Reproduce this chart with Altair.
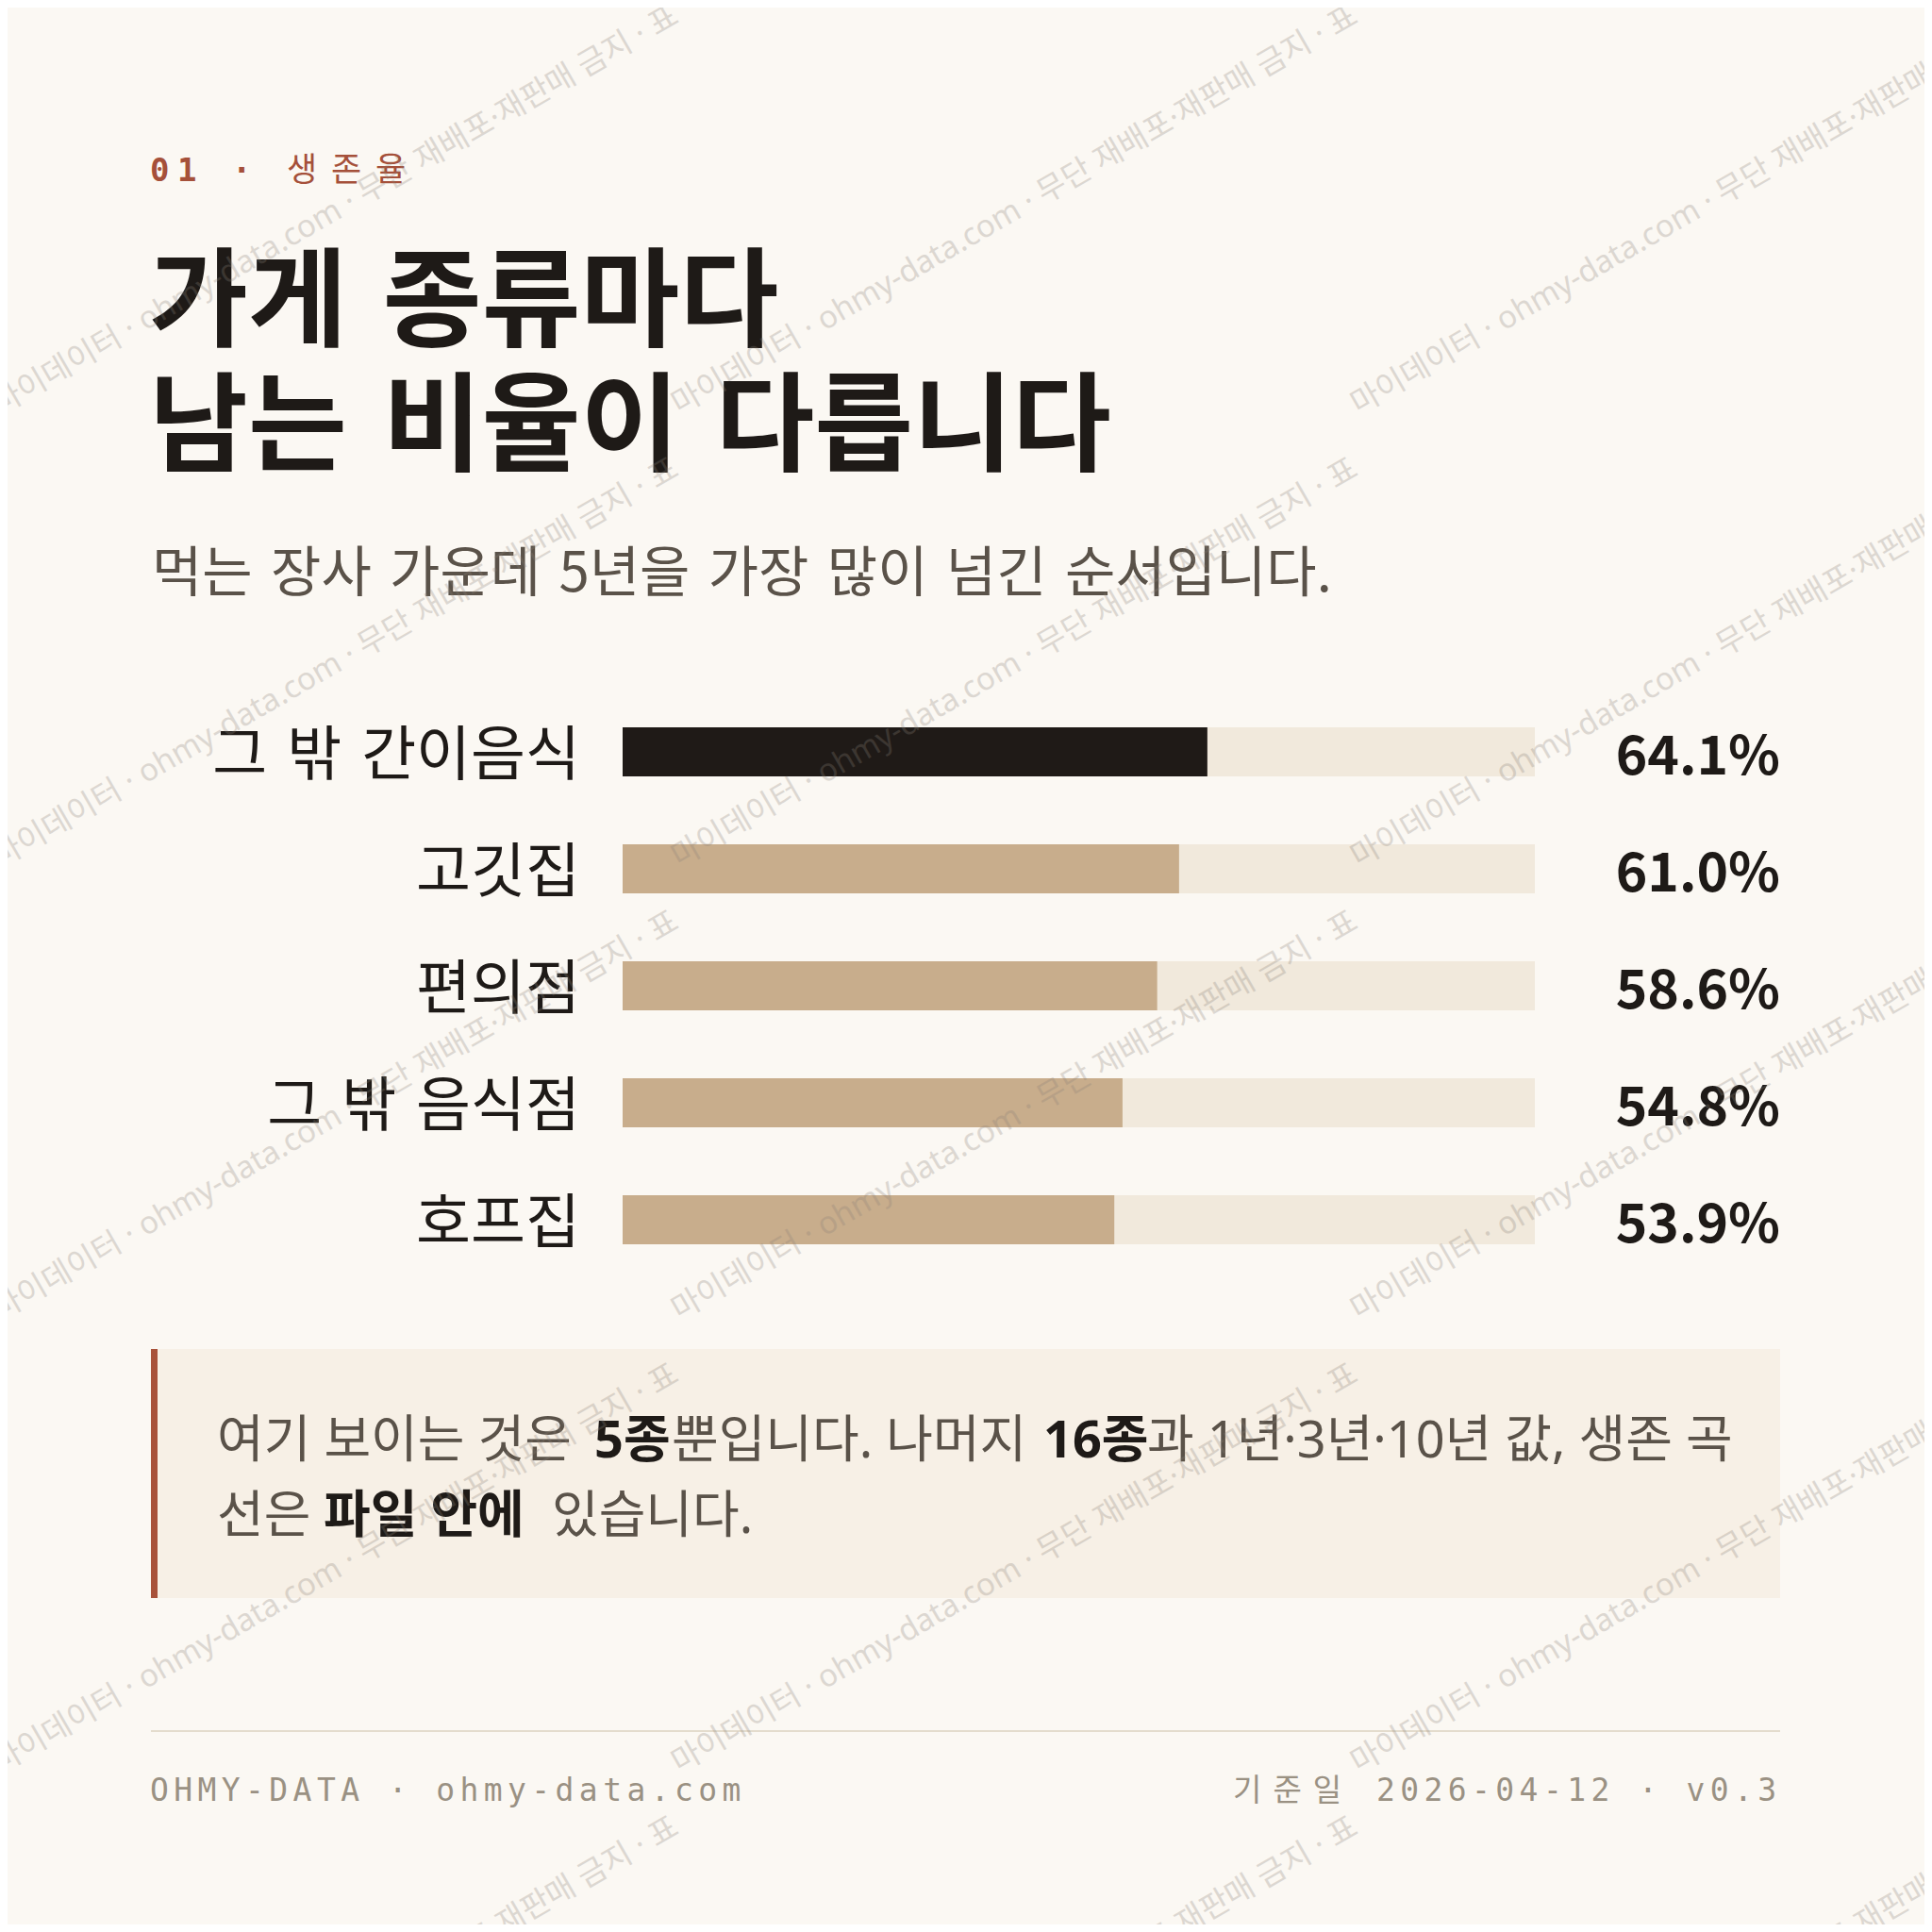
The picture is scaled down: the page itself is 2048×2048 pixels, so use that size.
import altair as alt
import pandas as pd

# ---------------- data ----------------
categories = ["그 밖 간이음식", "고깃집", "편의점", "그 밖 음식점", "호프집"]
survival_5y = [64.1, 61.0, 58.6, 54.8, 53.9]

kicker = "01 · 생존율"
title_lines = ["가게 종류마다", "남는 비율이 다릅니다"]
subtitle = "먹는 장사 가운데 5년을 가장 많이 넘긴 순서입니다."
note_line1 = ["여기 보이는 것은", "5종", "뿐입니다. 나머지", "16종", "과 1년·3년·10년 값, 생존 곡"]
note_line1_bold = [False, True, False, True, False]
note_line2 = ["선은", "파일 안에", "있습니다."]
note_line2_bold = [False, True, False]
footer_left = "OHMY-DATA · ohmy-data.com"
footer_right_ko = "기준일"
footer_right = "2026-04-12 · v0.3"
watermark = "마이데이터 · ohmy-data.com · 무단 재배포·재판매 금지 · 표"

# ---------------- style / layout ----------------
OFF = 8
W = H = 2032
KR = "Noto Sans CJK KR"
KRL = "Noto Sans, Noto Sans CJK KR"
MONO = "DejaVu Sans Mono, Noto Sans CJK KR"
WIDE = "\u2004"  # slightly wider word space, as in the reference typeface
BG = "#fbf8f3"
INK = "#1e1a17"
SUB = "#5a5249"
TRACK = "#f1e9dc"
TAN = "#c8ad8c"
DARK = "#1f1a17"
NOTE_BG = "#f7f0e6"
ACCENT = "#a8523a"
RUST = "#a5503a"
RULE = "#e4dccd"
FOOT = "#9a9183"


def px(v):
    return v - OFF


def wide(s):
    return s.replace(" ", WIDE)


def spaced(text, x0, y, adv_ascii, adv_wide, gap):
    rows = []
    x = x0
    for ch in text:
        if ch != " ":
            rows.append({"ch": ch, "x": px(x), "y": px(y)})
        x += (adv_wide if ord(ch) > 0x3000 else adv_ascii) + gap
    return pd.DataFrame(rows)


one = pd.DataFrame({"k": [0]})

df = pd.DataFrame({"category": categories, "value": survival_5y})
df["disp"] = df["category"].map(wide)
df["label"] = df["value"].map(lambda v: f"{v:.1f}%")
df["top"] = df["value"] == df["value"].max()

x_scale = alt.Scale(domain=[0, 100], range=[px(660), px(1627)])


def y_enc():
    return alt.Y(
        "category:N",
        sort=categories,
        scale=alt.Scale(domain=categories, range=[px(735), px(1355)],
                        paddingInner=0.58, paddingOuter=0.29),
        axis=None,
    )


track = alt.Chart(df).mark_bar(color=TRACK).encode(
    x=alt.XDatum(0, type="quantitative", scale=x_scale, axis=None),
    x2=alt.X2Datum(100),
    y=y_enc(),
)

bars = alt.Chart(df).mark_bar().encode(
    x=alt.X("value:Q", scale=x_scale, axis=None),
    y=y_enc(),
    color=alt.when(alt.datum.top).then(alt.value(DARK)).otherwise(alt.value(TAN)),
)

labels = alt.Chart(df).mark_text(
    align="right", baseline="alphabetic", dy=24, font=KR, fontSize=63, color=INK
).encode(y=y_enc(), x=alt.value(px(615)), text="disp:N")

values = alt.Chart(df).mark_text(
    align="right", baseline="alphabetic", dy=24, font=KR, fontSize=57,
    fontWeight="bold", color=INK
).encode(y=y_enc(), x=alt.value(px(1887)), text="label:N")

# kicker
kdf = spaced(kicker, 159, 192, 29, 47, 0)
kbold = kdf[kdf["ch"].isin(list("01·"))]
knorm = kdf[~kdf["ch"].isin(list("01·"))]
kicker_b = alt.Chart(kbold).mark_text(
    align="left", baseline="alphabetic", font=MONO, fontSize=34, fontWeight="bold", color=RUST
).encode(x=alt.X("x:Q", scale=None, axis=None), y=alt.Y("y:Q", scale=None, axis=None), text="ch:N")
kicker_n = alt.Chart(knorm).mark_text(
    align="left", baseline="alphabetic", font=KR, fontSize=35, color=RUST
).encode(x=alt.X("x:Q", scale=None, axis=None), y=alt.Y("y:Q", scale=None, axis=None), text="ch:N")

title = alt.Chart(one).mark_text(
    text=[wide(t) for t in title_lines], align="left", baseline="alphabetic", font=KR,
    fontSize=114, fontWeight="bold", color=INK, lineHeight=132
).encode(x=alt.value(px(158)), y=alt.value(px(358)))

sub = alt.Chart(one).mark_text(
    text=wide(subtitle), align="left", baseline="alphabetic", font=KR, fontSize=58, color=SUB
).encode(x=alt.value(px(161)), y=alt.value(px(627)))

# note box
note_box = alt.Chart(one).mark_rect(color=NOTE_BG).encode(
    x=alt.value(px(160)), x2=alt.value(px(1887)), y=alt.value(px(1430)), y2=alt.value(px(1694))
)
note_accent = alt.Chart(one).mark_rect(color=ACCENT).encode(
    x=alt.value(px(160)), x2=alt.value(px(167)), y=alt.value(px(1430)), y2=alt.value(px(1694))
)

seg_x1 = [230, 630, 712, 1106, 1216]
seg_x2 = [230, 343, 585]
seg_rows = []
for t, b, xx in zip(note_line1, note_line1_bold, seg_x1):
    seg_rows.append({"t": t, "bold": b, "x": px(xx), "y": px(1545)})
for t, b, xx in zip(note_line2, note_line2_bold, seg_x2):
    seg_rows.append({"t": t, "bold": b, "x": px(xx), "y": px(1625)})
segs = pd.DataFrame(seg_rows)

note_n = alt.Chart(segs[~segs["bold"]]).mark_text(
    align="left", baseline="alphabetic", font=KRL, fontSize=54, color=SUB
).encode(x=alt.X("x:Q", scale=None, axis=None), y=alt.Y("y:Q", scale=None, axis=None), text="t:N")
note_b = alt.Chart(segs[segs["bold"]]).mark_text(
    align="left", baseline="alphabetic", font=KRL, fontSize=54, fontWeight="bold", color=INK
).encode(x=alt.X("x:Q", scale=None, axis=None), y=alt.Y("y:Q", scale=None, axis=None), text="t:N")

# footer
rule = alt.Chart(one).mark_rule(color=RULE, strokeWidth=2).encode(
    x=alt.value(px(160)), x2=alt.value(px(1887)), y=alt.value(px(1835))
)
fdf = pd.concat([
    spaced(footer_left, 159, 1909, 19.87, 33, 5.4),
    spaced(footer_right_ko, 1307, 1909, 19.87, 37, 5.4),
    spaced(footer_right, 1459, 1909, 19.87, 33, 5.4),
], ignore_index=True)
footer = alt.Chart(fdf).mark_text(
    align="left", baseline="alphabetic", font=MONO, fontSize=33, color=FOOT
).encode(x=alt.X("x:Q", scale=None, axis=None), y=alt.Y("y:Q", scale=None, axis=None), text="ch:N")

# watermark tiles
tile_x = [0, 720, 1440]
tile_y = [0, 480, 960, 1440, 1920]
wrows = [{"x": px(tx), "y": px(ty + 440)} for ty in tile_y for tx in tile_x]
wm = alt.Chart(pd.DataFrame(wrows)).mark_text(
    text=watermark, align="left", baseline="alphabetic", angle=330, font=KRL,
    fontSize=33, color="#8a8178", opacity=0.27
).encode(x=alt.X("x:Q", scale=None, axis=None), y=alt.Y("y:Q", scale=None, axis=None))

chart = alt.layer(
    note_box, note_accent, track, bars, labels, values,
    kicker_b, kicker_n, title, sub, note_n, note_b, rule, footer, wm
).resolve_scale(x="independent", y="independent").properties(
    width=W, height=H, background=BG, padding=0, autosize="none"
).configure_view(strokeWidth=0)

chart.save("out.html", embed_options={"renderer": "svg", "actions": False})
